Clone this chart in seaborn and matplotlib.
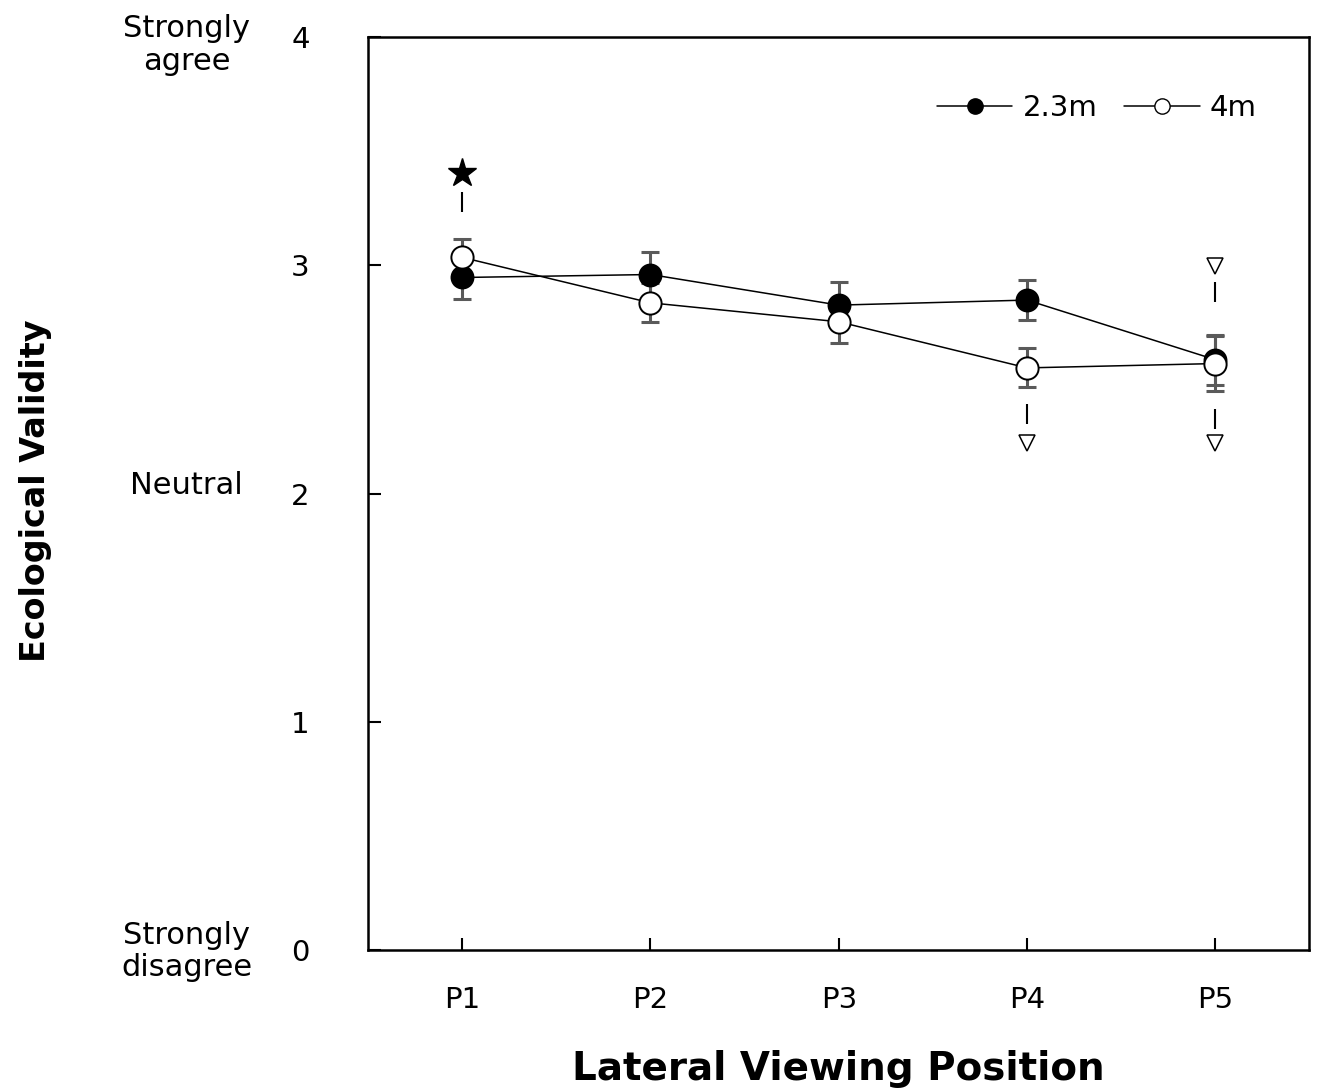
import matplotlib
matplotlib.use("Agg")
import matplotlib.pyplot as plt
from matplotlib.lines import Line2D
import seaborn as sns
import pandas as pd
import numpy as np

positions = ["P1", "P2", "P3", "P4", "P5"]
mean_23m = [2.947, 2.960, 2.826, 2.848, 2.587]
err_23m = [0.096, 0.099, 0.100, 0.088, 0.110]
mean_4m = [3.035, 2.836, 2.753, 2.551, 2.570]
err_4m = [0.079, 0.086, 0.092, 0.085, 0.120]

# significance annotations
star_x = [0]
star_y = [3.404]
star_dash_y = [3.277]
tri_x = [4, 3, 4]
tri_y = [2.997, 2.223, 2.223]
tri_dash_y = [2.884, 2.351, 2.325]

y_ticks = [0, 1, 2, 3, 4]
scale_texts = ["Strongly\nagree", "Neutral", "Strongly\ndisagree"]
scale_text_y = [3.965, 2.035, -0.005]

sns.set_style("white")
plt.rcParams["font.family"] = ["DejaVu Sans"]
plt.rcParams["text.color"] = "black"
plt.rcParams["axes.labelcolor"] = "black"
plt.rcParams["xtick.color"] = "black"
plt.rcParams["ytick.color"] = "black"

fig = plt.figure(figsize=(13.24, 10.91), dpi=100)
ax = fig.add_axes([0.278, 0.129, 0.711, 0.837])

x = np.arange(len(positions))
df = pd.DataFrame({
    "pos": np.concatenate([x, x]),
    "value": mean_23m + mean_4m,
    "dist": ["2.3m"] * 5 + ["4m"] * 5,
})

# error bars (behind markers)
ax.errorbar(x, mean_23m, yerr=err_23m, fmt="none", ecolor="#5a5a5a",
            elinewidth=2.2, capsize=6.5, capthick=2.2, zorder=2)
ax.errorbar(x, mean_4m, yerr=err_4m, fmt="none", ecolor="#5a5a5a",
            elinewidth=2.2, capsize=6.5, capthick=2.2, zorder=2)

sns.lineplot(data=df[df.dist == "2.3m"], x="pos", y="value", ax=ax,
             color="black", linewidth=1.1, marker="o", markersize=16,
             markerfacecolor="black", markeredgecolor="black",
             markeredgewidth=1.2, legend=False, zorder=3)
sns.lineplot(data=df[df.dist == "4m"], x="pos", y="value", ax=ax,
             color="black", linewidth=1.1, marker="o", markersize=16,
             markerfacecolor="white", markeredgecolor="black",
             markeredgewidth=1.4, legend=False, zorder=4)

# annotations
ax.plot(star_x, star_y, linestyle="none", marker="*", markersize=21,
        color="black", zorder=5)
ax.plot(star_x, star_dash_y, linestyle="none", marker="|", markersize=15,
        markeredgewidth=1.5, color="black", zorder=5)
ax.plot(tri_x, tri_y, linestyle="none", marker="v", markersize=12,
        markerfacecolor="white", markeredgecolor="black",
        markeredgewidth=1.1, zorder=5)
ax.plot(tri_x, tri_dash_y, linestyle="none", marker="|", markersize=15,
        markeredgewidth=1.5, color="black", zorder=5)

ax.set_xlim(-0.5, 4.5)
ax.set_ylim(0, 4)
ax.set_xticks(x)
ax.set_xticklabels(positions)
ax.set_yticks(y_ticks)
ax.set_yticklabels([str(t) for t in y_ticks])
ax.tick_params(axis="both", direction="in", length=9, width=1.5,
               labelsize=21, color="black", labelcolor="black",
               bottom=True, left=True)
ax.tick_params(axis="y", pad=42)
ax.tick_params(axis="x", pad=26)
for s in ax.spines.values():
    s.set_visible(True)
    s.set_linewidth(1.8)
    s.set_color("black")

for yv, txt in zip(scale_text_y, scale_texts):
    ax.text(-0.1925, yv, txt, transform=ax.get_yaxis_transform(),
            ha="center", va="center", fontsize=22, linespacing=1.15,
            color="black")

ax.set_xlabel("Lateral Viewing Position", fontsize=28, fontweight="bold",
              labelpad=26, color="black")
ax.set_ylabel("")
fig.text(0.027, 0.55, "Ecological Validity", rotation=90, ha="center",
         va="center", fontsize=24, fontweight="bold", color="black")

handles = [
    Line2D([], [], color="black", linewidth=1.1, marker="o", markersize=11,
           markerfacecolor="black", markeredgecolor="black"),
    Line2D([], [], color="black", linewidth=1.1, marker="o", markersize=11,
           markerfacecolor="white", markeredgecolor="black"),
]
leg = ax.legend(handles, ["2.3m", "4m"], ncol=2, frameon=False, fontsize=21,
                loc="center", bbox_to_anchor=(0.774, 0.922), handlelength=2.6,
                handletextpad=0.35, columnspacing=0.9)
for t in leg.get_texts():
    t.set_color("black")

fig.savefig("out.png", dpi=100)
